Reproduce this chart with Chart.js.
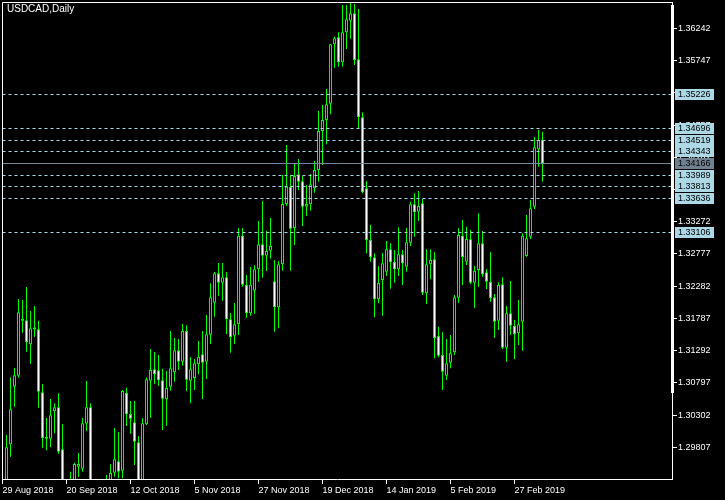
<!DOCTYPE html>
<html>
<head>
<meta charset="utf-8">
<title>USDCAD,Daily</title>
<script src="https://cdn.jsdelivr.net/npm/chart.js@4.4.0/dist/chart.umd.min.js"></script>
<style>
  html, body { margin: 0; padding: 0; background: #000; }
  canvas { display: block; }
</style>
</head>
<body>
<canvas id="usdcadChart" width="725" height="500"></canvas>
<script>
// ====================================================================
// USDCAD DAILY CANDLES (MT4 look)
// ====================================================================

const chartTitle = 'USDCAD,Daily';

// one label every 16 daily bars, first bar = 29 Aug 2018
const dateLabels = ['29 Aug 2018', '20 Sep 2018', '12 Oct 2018', '5 Nov 2018', '27 Nov 2018',
  '19 Dec 2018', '14 Jan 2019', '5 Feb 2019', '27 Feb 2019'];
const barsPerLabel = 16;

const opens = [null,
  1.29260, 1.29853, 1.30738, 1.30907, 1.31752, 1.31758, 1.31389, 1.31625, 1.31620, 1.30652,
  1.29955, 1.29939, 1.30360, 1.30422, 1.29777, 1.29210, 1.29150, 1.29260, 1.29510, 1.29479,
  1.30170, 1.30422, 1.29150, 1.29000, 1.29100, 1.29050, 1.29250, 1.29417, 1.29592, 1.29448,
  1.30641, 1.30319, 1.30191, 1.29884, 1.29260, 1.30161, 1.30830, 1.31005, 1.30990, 1.30836,
  1.30545, 1.30738, 1.30959, 1.31297, 1.31122, 1.31593, 1.30830, 1.30872, 1.31082, 1.31236,
  1.31122, 1.31537, 1.32028, 1.32480, 1.32335, 1.32418, 1.31773, 1.31521, 1.31696, 1.33057,
  1.32305, 1.31865, 1.32212, 1.32541, 1.32925, 1.32750, 1.32827, 1.32357, 1.31958, 1.32618,
  1.33544, 1.33810, 1.33175, 1.34000, 1.33893, 1.33503, 1.33539, 1.33785, 1.34066, 1.34665,
  1.34834, 1.35084, 1.35997, 1.36104, 1.35720, 1.36181, 1.36359, 1.36473, 1.35766, 1.34876,
  1.33785, 1.32991, 1.32725, 1.32080, 1.32377, 1.32504, 1.32848, 1.32658, 1.32541, 1.32772,
  1.32581, 1.32950, 1.33539, 1.33426, 1.33554, 1.32172, 1.32618, 1.32694, 1.31517, 1.31225,
  1.30907, 1.31107, 1.31267, 1.32105, 1.33057, 1.32658, 1.33002, 1.32335, 1.32530, 1.32940,
  1.32495, 1.32351, 1.32111, 1.31752, 1.32311, 1.31337, 1.31865, 1.31675, 1.31558, 1.31736,
  1.32745, 1.33042, 1.33503, 1.34384, 1.34527];
const highs = [null,
  1.29996, 1.30882, 1.31025, 1.32085, 1.32070, 1.32269, 1.31901, 1.31978, 1.31747, 1.30780,
  1.30257, 1.30549, 1.30483, 1.30637, 1.30165, 1.29290, 1.29433, 1.29571, 1.29720, 1.30257,
  1.30826, 1.30483, 1.29280, 1.29250, 1.29280, 1.29382, 1.29546, 1.30104, 1.30042, 1.30687,
  1.30723, 1.30518, 1.30518, 1.29981, 1.30253, 1.30882, 1.31317, 1.31271, 1.31225, 1.31015,
  1.30979, 1.31593, 1.31486, 1.31471, 1.31701, 1.31681, 1.31194, 1.31164, 1.31440, 1.31593,
  1.31839, 1.32326, 1.32500, 1.32638, 1.32638, 1.32500, 1.31870, 1.32024, 1.33175, 1.33175,
  1.32454, 1.32576, 1.32602, 1.33283, 1.33590, 1.33134, 1.33329, 1.32684, 1.32669, 1.33989,
  1.34450, 1.33989, 1.34158, 1.34235, 1.33974, 1.33836, 1.34005, 1.34204, 1.34972, 1.35064,
  1.35310, 1.36000, 1.36113, 1.36181, 1.36600, 1.36600, 1.36636, 1.36616, 1.36539, 1.34952,
  1.33897, 1.33221, 1.32787, 1.32592, 1.32796, 1.32976, 1.32940, 1.32838, 1.33186, 1.32838,
  1.33180, 1.33579, 1.33708, 1.33744, 1.33621, 1.32848, 1.32848, 1.32802, 1.31660, 1.31574,
  1.31471, 1.31532, 1.32147, 1.33171, 1.33298, 1.33196, 1.33145, 1.32592, 1.33401, 1.33129,
  1.32546, 1.32802, 1.32162, 1.32341, 1.32418, 1.31977, 1.32361, 1.31762, 1.32070, 1.33094,
  1.33375, 1.33605, 1.34573, 1.34680, 1.34654];
const lows = [null,
  1.29180, 1.29663, 1.30431, 1.30876, 1.31567, 1.31276, 1.31091, 1.31506, 1.30416, 1.29801,
  1.29761, 1.29812, 1.30022, 1.29709, 1.29140, 1.29050, 1.29100, 1.29150, 1.29356, 1.29433,
  1.30058, 1.29100, 1.28900, 1.28850, 1.28900, 1.28950, 1.29150, 1.29356, 1.29331, 1.29331,
  1.30135, 1.30016, 1.29536, 1.29150, 1.29200, 1.30150, 1.30262, 1.30780, 1.30753, 1.30073,
  1.30139, 1.30677, 1.30815, 1.30995, 1.31061, 1.30672, 1.30483, 1.30687, 1.30929, 1.30549,
  1.30856, 1.31394, 1.31813, 1.32136, 1.32059, 1.31547, 1.31260, 1.31394, 1.31532, 1.32274,
  1.31798, 1.31829, 1.31859, 1.32351, 1.32412, 1.32515, 1.32704, 1.31583, 1.31635, 1.32520,
  1.33513, 1.32520, 1.32914, 1.33759, 1.33206, 1.33360, 1.33441, 1.33718, 1.33887, 1.34143,
  1.34461, 1.34922, 1.35637, 1.35653, 1.35653, 1.35925, 1.36083, 1.35679, 1.34696, 1.33708,
  1.32787, 1.32658, 1.31804, 1.32019, 1.31829, 1.32443, 1.32243, 1.32335, 1.32438, 1.32300,
  1.32504, 1.32899, 1.33042, 1.33283, 1.32147, 1.32008, 1.32387, 1.31175, 1.31189, 1.30687,
  1.30841, 1.31020, 1.31225, 1.32028, 1.32300, 1.32607, 1.32315, 1.31951, 1.32274, 1.32428,
  1.32239, 1.32044, 1.31491, 1.31609, 1.31317, 1.31122, 1.31532, 1.31164, 1.31378, 1.31291,
  1.32735, 1.33006, 1.33467, 1.34117, 1.33887];
const closes = [null,
  1.29807, 1.30391, 1.30913, 1.31881, 1.31773, 1.31420, 1.31635, 1.31615, 1.30661, 1.29946,
  1.29940, 1.30299, 1.30422, 1.29740, 1.29210, 1.29150, 1.29250, 1.29551, 1.29551, 1.30176,
  1.30422, 1.29150, 1.29000, 1.29100, 1.29050, 1.29250, 1.29413, 1.29623, 1.29433, 1.30672,
  1.30314, 1.30247, 1.29893, 1.29250, 1.30176, 1.30852, 1.30995, 1.30929, 1.30836, 1.30554,
  1.30718, 1.31021, 1.31297, 1.31122, 1.31593, 1.30846, 1.31005, 1.31097, 1.31199, 1.31107,
  1.31543, 1.32111, 1.32480, 1.32335, 1.32418, 1.31773, 1.31497, 1.31696, 1.33057, 1.32305,
  1.31865, 1.32305, 1.32541, 1.32925, 1.32750, 1.32822, 1.32899, 1.31958, 1.32618, 1.33544,
  1.33810, 1.33165, 1.33974, 1.33887, 1.33503, 1.33544, 1.33847, 1.34066, 1.34665, 1.34834,
  1.35075, 1.35997, 1.36089, 1.35720, 1.36181, 1.36381, 1.36473, 1.35756, 1.34876, 1.33724,
  1.32991, 1.32725, 1.32080, 1.32335, 1.32633, 1.32848, 1.32648, 1.32541, 1.32772, 1.32633,
  1.32956, 1.33539, 1.33417, 1.33513, 1.32182, 1.32618, 1.32684, 1.31482, 1.31214, 1.30969,
  1.31097, 1.31251, 1.32111, 1.33068, 1.32725, 1.33006, 1.32335, 1.32520, 1.32940, 1.32464,
  1.32351, 1.32096, 1.31736, 1.32300, 1.31337, 1.31865, 1.31675, 1.31543, 1.31696, 1.33057,
  1.33017, 1.33478, 1.34415, 1.34527, 1.34166];

// price scale
const priceTicks = [1.29807, 1.30302, 1.30797, 1.31292, 1.31787, 1.32282, 1.32777,
  1.33272, 1.33767, 1.34262, 1.34757, 1.35252, 1.35747, 1.36242];
const priceMin = 1.29321;
const priceMax = 1.36631;
const barSlotsShown = 167.375;

// horizontal lines drawn on the chart
const levels = [1.35226, 1.34696, 1.34519, 1.34343, 1.33989, 1.33813, 1.33636, 1.33106];
const bidPrice = closes[closes.length - 1];

const GREEN = '#00ff00';
const LEVEL_BLUE = '#add8e6';
const BID_GREY = '#778899';
const AXIS_FONT = { family: 'Liberation Sans', size: 9 };

// --------------------------------------------------------------------
const wickPoints = [];
const bodyPoints = [];
const bodyFills = [];
opens.forEach((o, i) => {
  if (o == null) return;
  wickPoints.push({ x: i, y: [lows[i], highs[i]] });
  bodyPoints.push({ x: i, y: [o, closes[i]] });
  bodyFills.push(closes[i] >= o ? '#000000' : '#ffffff');   // bull black, bear white
});

const terminalDecor = {
  id: 'terminalDecor',
  beforeDraw(chart) {
    const { ctx, width, height } = chart;
    ctx.save();
    ctx.fillStyle = '#000';
    ctx.fillRect(0, 0, width, height);
    ctx.restore();
  },
  afterDatasetsDraw(chart) {
    const { ctx, chartArea: a, scales: { y } } = chart;
    ctx.save();
    ctx.lineWidth = 1;
    ctx.setLineDash([3, 3]);
    ctx.strokeStyle = LEVEL_BLUE;
    levels.forEach(v => {
      const py = Math.floor(y.getPixelForValue(v)) + 0.5;
      ctx.beginPath();
      ctx.moveTo(a.left, py);
      ctx.lineTo(a.right, py);
      ctx.stroke();
    });
    ctx.setLineDash([]);
    ctx.strokeStyle = BID_GREY;
    const bidY = Math.floor(y.getPixelForValue(bidPrice)) + 0.5;
    ctx.beginPath();
    ctx.moveTo(a.left, bidY);
    ctx.lineTo(a.right, bidY);
    ctx.stroke();
    ctx.restore();
  },
  afterDraw(chart) {
    const { ctx, chartArea: a, scales: { y } } = chart;
    ctx.save();
    // frame: top + left edges (bottom/right come from the axes)
    ctx.strokeStyle = '#fff';
    ctx.lineWidth = 1;
    ctx.beginPath();
    ctx.moveTo(2.5, a.bottom);
    ctx.lineTo(2.5, 2.5);
    ctx.lineTo(a.right + 1, 2.5);
    ctx.stroke();
    ctx.fillStyle = '#fff';
    ctx.fillRect(a.right - 1, 5, 3, 388);

    // price tags on the scale
    ctx.font = `${AXIS_FONT.size}px "${AXIS_FONT.family}"`;
    ctx.textBaseline = 'middle';
    ctx.textAlign = 'left';
    const tag = (v, bg) => {
      const py = Math.floor(y.getPixelForValue(v)) + 0.5;
      ctx.fillStyle = bg;
      ctx.fillRect(a.right + 3, py - 5.5, 39, 11);
      ctx.fillStyle = '#000';
      ctx.fillText(v.toFixed(5), a.right + 6, py);
    };
    levels.forEach(v => tag(v, LEVEL_BLUE));
    tag(bidPrice, '#708090');

    // symbol caption
    ctx.fillStyle = '#fff';
    ctx.font = '10px "Liberation Sans"';
    ctx.textBaseline = 'top';
    ctx.fillText(chartTitle, 7, 4);
    ctx.restore();
  }
};

const ctx = document.getElementById('usdcadChart').getContext('2d');
new Chart(ctx, {
  type: 'bar',
  data: {
    datasets: [
      {
        label: 'body',
        data: bodyPoints,
        backgroundColor: bodyFills,
        borderColor: GREEN,
        borderWidth: 1,
        borderSkipped: false,
        barThickness: 3,
        minBarLength: 2,
        inflateAmount: 0,
        grouped: false,
        order: 0
      },
      {
        label: 'wick',
        data: wickPoints,
        backgroundColor: GREEN,
        borderWidth: 0,
        barThickness: 1,
        inflateAmount: 0,
        grouped: false,
        order: 1
      }
    ]
  },
  options: {
    responsive: false,
    animation: false,
    devicePixelRatio: 1,
    layout: { padding: { left: 2.5, top: 3, right: 0, bottom: 0 } },
    plugins: {
      legend: { display: false },
      tooltip: { enabled: false }
    },
    scales: {
      x: {
        type: 'linear',
        min: 0,
        max: barSlotsShown,
        offset: false,
        afterBuildTicks: scale => {
          scale.ticks = dateLabels.map((_, k) => ({ value: k * barsPerLabel }));
        },
        afterFit: scale => {
          scale.height = 21;
          scale.paddingLeft = 0;
          scale.paddingRight = 0;
        },
        ticks: {
          color: '#fff',
          font: AXIS_FONT,
          align: 'start',
          maxRotation: 0,
          autoSkip: false,
          padding: 1,
          callback: v => dateLabels[Math.round(v / barsPerLabel)]
        },
        grid: { drawOnChartArea: false, drawTicks: true, tickLength: 5, color: '#fff', offset: false },
        border: { display: true, color: '#fff', width: 1 }
      },
      y: {
        position: 'right',
        min: priceMin,
        max: priceMax,
        beginAtZero: false,
        afterBuildTicks: scale => {
          scale.ticks = priceTicks.map(v => ({ value: v }));
        },
        afterFit: scale => {
          scale.width = 53;
          scale.paddingTop = 0;
          scale.paddingBottom = 0;
        },
        ticks: {
          color: '#fff',
          font: AXIS_FONT,
          padding: 1,
          autoSkip: false,
          callback: v => v.toFixed(5)
        },
        grid: { drawOnChartArea: false, drawTicks: true, tickLength: 5, color: '#fff' },
        border: { display: true, color: '#fff', width: 1 }
      }
    }
  },
  plugins: [terminalDecor]
});
</script>
</body>
</html>
